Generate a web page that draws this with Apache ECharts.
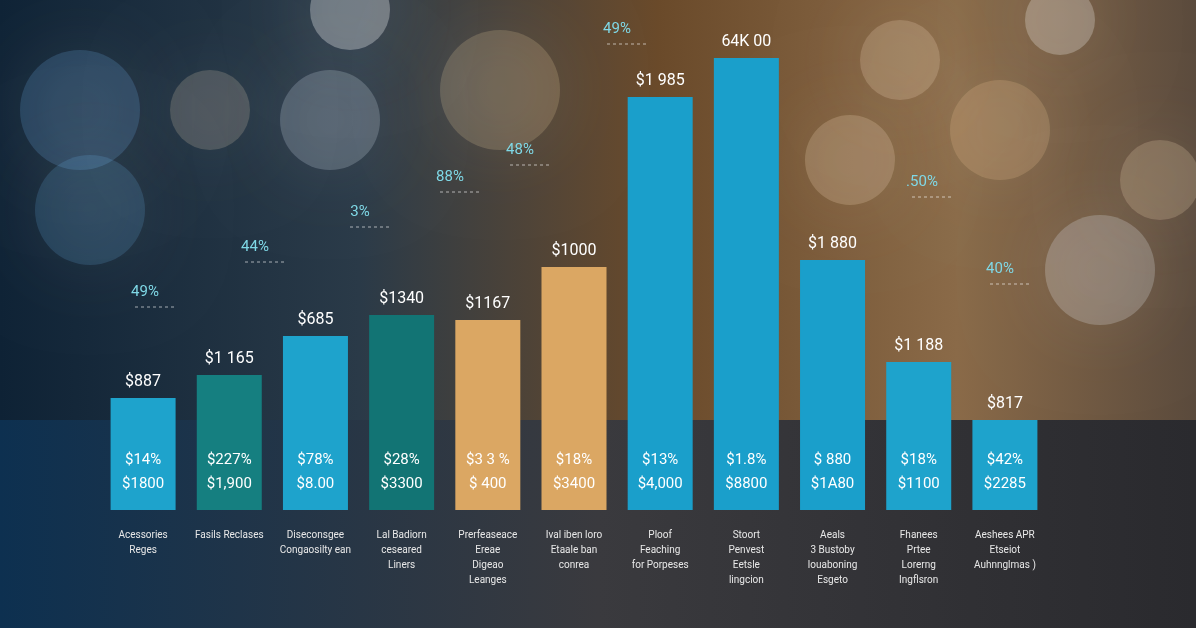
<!DOCTYPE html>
<html><head><meta charset="utf-8">
<script src="https://cdn.jsdelivr.net/npm/echarts@6/dist/echarts.min.js"></script>
<style>html,body{margin:0;padding:0;}#c{width:1196px;height:628px;}</style>
</head><body><div id="c"></div>
<script>
const categories = ["Acessories\nReges","Fasils Reclases","Diseconsgee\nCongaosilty ean","Lal Badiorn\nceseared\nLiners","Prerfeaseace\nEreae\nDigeao\nLeanges","Ival iben loro\nEtaale ban\nconrea","Ploof\nFeaching\nfor Porpeses","Stoort\nPenvest\nEetsle\nlingcion","Aeals\n3 Bustoby\nlouaboning\nEsgeto","Fhanees\nPrtee\nLorerng\nIngflsron","Aeshees APR\nEtseiot\nAuhnnglmas )"];
const values = [112,135,174,195,190,243,413,452,250,148,90];
const topLabels = ["$887","$1 165","$685","$1340","$1167","$1000","$1 985","64K 00","$1 880","$1 188","$817"];
const innerLabels = ["$14%\n$1800","$227%\n$1,900","$78%\n$8.00","$28%\n$3300","$3 3 %\n$ 400","$18%\n$3400","$13%\n$4,000","$1.8%\n$8800","$ 880\n$1A80","$18%\n$1100","$42%\n$2285"];
const colors = ["#1ea3cc","#157f80","#1ea3cc","#127474","#dba763","#dba763","#1a9fcb","#1a9fcb","#1a9fcb","#1ea3cc","#1ea3cc"];
const pctLabels = [["49%",145,285],["44%",255,240],["3%",360,205],["88%",450,170],["48%",520,143],["49%",617,22],[".50%",922,175],["40%",1000,262]];

const chart = echarts.init(document.getElementById('c'));
const bokeh = [[80,110,60,'rgba(120,190,255,0.18)'],[90,210,55,'rgba(120,200,255,0.16)'],[330,120,50,'rgba(230,240,255,0.2)'],[210,110,40,'rgba(255,230,200,0.18)'],[500,90,60,'rgba(255,220,170,0.18)'],[850,160,45,'rgba(255,230,200,0.2)'],[1100,270,55,'rgba(240,245,255,0.22)'],[1160,180,40,'rgba(255,230,190,0.2)'],[1000,130,50,'rgba(255,210,160,0.18)'],[900,60,40,'rgba(255,230,200,0.2)'],[350,10,40,'rgba(255,255,255,0.3)'],[1060,20,35,'rgba(255,255,255,0.25)']];
const graphics = [];
bokeh.forEach(b=>graphics.push({type:'circle',silent:true,z:-1,shape:{cx:b[0],cy:b[1],r:b[2]},style:{fill:b[3],shadowBlur:80,shadowColor:'rgba(255,240,220,0.5)'}}));
pctLabels.forEach(p=>{
  graphics.push({type:'text',x:p[1],y:p[2],style:{text:p[0],fill:'#7fd8e6',font:'15px Roboto',textAlign:'center'}});
  graphics.push({type:'line',shape:{x1:p[1]-10,y1:p[2]+22,x2:p[1]+30,y2:p[2]+22},style:{stroke:'rgba(255,255,255,0.6)',lineDash:[3,3],lineWidth:1}});
});
chart.setOption({
  backgroundColor:{type:'linear',x:0,y:0,x2:1,y2:0,colorStops:[{offset:0,color:'#0e2235'},{offset:0.3,color:'#2a3a48'},{offset:0.55,color:'#6a4a2a'},{offset:0.8,color:'#8a6a48'},{offset:1,color:'#5a4a3c'}]},
  graphic:[{type:'rect',silent:true,z:-2,shape:{x:0,y:420,width:1196,height:208},style:{fill:{type:'linear',x:0,y:0,x2:1,y2:0,colorStops:[{offset:0,color:'#0d3050'},{offset:0.5,color:'#3a3a3e'},{offset:1,color:'#2a2a2e'}]}}}].concat(graphics),
  grid:{left:100,right:148,top:10,bottom:118},
  xAxis:{type:'category',data:categories,axisLine:{show:false},axisTick:{show:false},
    axisLabel:{interval:0,color:'#e8e8e8',fontSize:10,margin:18,lineHeight:15,fontFamily:'Roboto'}},
  yAxis:{type:'value',min:0,max:500,show:false,splitLine:{show:false}},
  series:[{type:'bar',barWidth:65,
    data:values.map((v,i)=>({value:v,itemStyle:{color:colors[i]}})),
    label:{show:true,position:'top',distance:8,color:'#fff',fontSize:16,fontFamily:'Roboto',formatter:p=>topLabels[p.dataIndex]}},
   {type:'bar',barWidth:65,barGap:'-100%',data:values,itemStyle:{color:'transparent'},silent:true,
    label:{show:true,position:'insideBottom',distance:14,color:'#fff',fontSize:15,lineHeight:24,fontFamily:'Roboto',formatter:p=>innerLabels[p.dataIndex]}}]
});
</script></body></html>
